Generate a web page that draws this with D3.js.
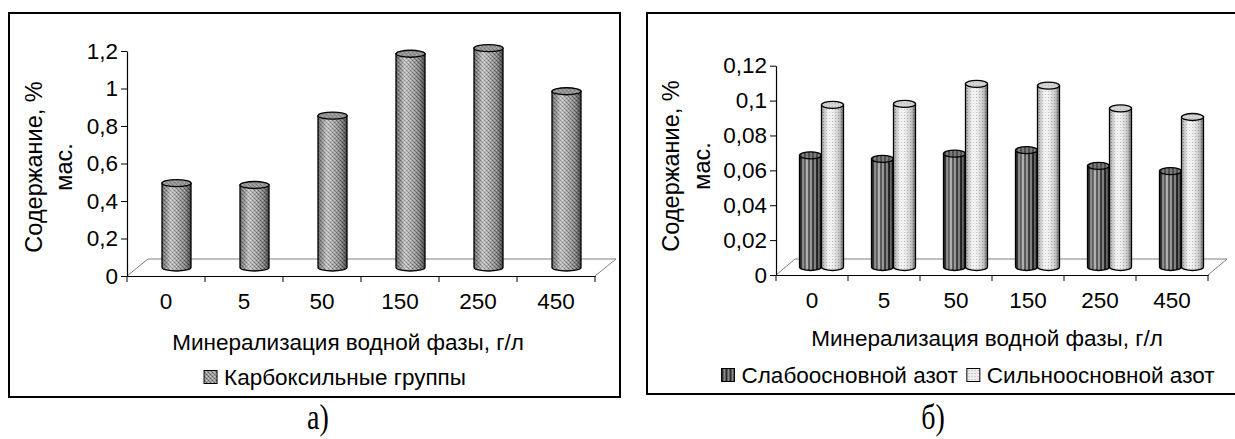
<!DOCTYPE html>
<html><head><meta charset="utf-8">
<script src="https://cdn.jsdelivr.net/npm/d3@7"></script>
<style>
html,body{margin:0;padding:0;background:#fff;}
svg text{font-family:"Liberation Sans",Arial,sans-serif;fill:#000;}
</style></head>
<body>
<svg id="c" width="1235" height="439"></svg>
<script>
// ---- data ----
const categories = ["0", "5", "50", "150", "250", "450"];
const carboxyl = [0.45, 0.44, 0.81, 1.14, 1.17, 0.94];
const weakN = [0.064, 0.062, 0.065, 0.067, 0.058, 0.055];
const strongN = [0.093, 0.0935, 0.105, 0.104, 0.091, 0.086];
const ticksA = [0, 0.2, 0.4, 0.6, 0.8, 1.0, 1.2];
const ticksB = [0, 0.02, 0.04, 0.06, 0.08, 0.10, 0.12];
const yTitle = ["Содержание, %", "мас."];
const xTitle = "Минерализация водной фазы, г/л";
const legendA = ["Карбоксильные группы"];
const legendB = ["Слабоосновной азот", "Сильноосновной азот"];
const captions = ["а)", "б)"];

const FS = 22.5;
const svg = d3.select("#c");
const defs = svg.append("defs");

function pat(id, w, h, bg, pts) {
  const p = defs.append("pattern").attr("id", id).attr("patternUnits", "userSpaceOnUse")
    .attr("width", w).attr("height", h);
  p.append("rect").attr("width", w).attr("height", h).attr("fill", bg);
  pts.forEach(q => p.append("rect").attr("x", q[0]).attr("y", q[1]).attr("width", q[2]).attr("height", q[3]).attr("fill", q[4]));
}
pat("pA", 4, 4, "#a0a0a0", [[0,0,1,1,"#5a5a5a"],[2,2,1,1,"#5a5a5a"],[2,0,1,1,"#cfcfcf"],[0,2,1,1,"#cfcfcf"],[1,1,1,1,"#7a7a7a"],[3,3,1,1,"#828282"]]);
pat("pD", 4, 4, "#8a8a8a", [[0,0,2,4,"#2a2a2a"]]);
pat("pL", 3, 3, "#eeeeee", [[1,1,1,1,"#b0b0b0"]]);

function grad(id, stops) {
  const g = defs.append("linearGradient").attr("id", id).attr("x1", "0").attr("x2", "1").attr("y1", "0").attr("y2", "0");
  stops.forEach(s => g.append("stop").attr("offset", s[0]).attr("stop-color", s[1]).attr("stop-opacity", s[2]));
}
grad("shade", [["0%","#000",0.3],["30%","#fff",0.35],["50%","#fff",0.15],["80%","#000",0.15],["100%","#000",0.55]]);

function cylinder(g, cx, rx, ry, yTop, yBot, fillId, topFill) {
  const body = `M${cx-rx},${yTop}L${cx-rx},${yBot}A${rx},${ry} 0 0 0 ${cx+rx},${yBot}L${cx+rx},${yTop}Z`;
  g.append("path").attr("d", body).attr("fill", `url(#${fillId})`);
  g.append("path").attr("d", body).attr("fill", "url(#shade)").attr("stroke", "#000").attr("stroke-width", 1.3);
  g.append("ellipse").attr("cx", cx).attr("cy", yTop).attr("rx", rx).attr("ry", ry).attr("fill", `url(#${fillId})`);
  g.append("ellipse").attr("cx", cx).attr("cy", yTop).attr("rx", rx).attr("ry", ry)
    .attr("fill", topFill).attr("fill-opacity", 0.55).attr("stroke", "#000").attr("stroke-width", 1.3);
}

const fmt = v => (v === 0 ? "0" : String(+v.toFixed(3))).replace(".", ",");

function chart(o) {
  const g = svg.append("g");
  g.append("rect").attr("x", o.frame[0]).attr("y", o.frame[1]).attr("width", o.frame[2]).attr("height", o.frame[3])
    .attr("fill", "none").attr("stroke", "#000").attr("stroke-width", 2);
  const x = d3.scaleBand().domain(categories).range(o.xr).paddingInner(0).paddingOuter(0);
  const y = d3.scaleLinear().domain([0, o.ymax]).range(o.yr);
  const y0 = y(0), dx = o.dx, dy = o.dy;
  const x0 = o.xr[0], x1 = o.xr[1];
  g.append("path").attr("d", `M${x0},${y0}L${x0+dx},${y0+dy}L${x1+dx},${y0+dy}L${x1},${y0}`)
    .attr("fill", "none").attr("stroke", "#808080").attr("stroke-width", 1);
  const ya = g.append("g").attr("transform", `translate(${x0},0)`)
    .call(d3.axisLeft(y).tickValues(o.ticks).tickFormat(fmt).tickSize(6).tickPadding(3).tickSizeOuter(0));
  ya.select(".domain").attr("stroke", "#000").attr("stroke-width", 1.2);
  ya.selectAll(".tick line").attr("stroke", "#000");
  ya.selectAll(".tick text").attr("font-size", FS).attr("fill", "#000");
  const xa = g.append("g").attr("transform", `translate(0,${y0})`)
    .call(d3.axisBottom(x).tickSize(0).tickPadding(17).tickSizeOuter(0));
  xa.select(".domain").attr("stroke", "#000").attr("stroke-width", 1.2);
  xa.selectAll(".tick text").attr("font-size", FS).attr("fill", "#000");
  categories.forEach(c => {
    const bx = x(c) + x.bandwidth();
    g.append("line").attr("x1", bx).attr("x2", bx).attr("y1", y0).attr("y2", y0 + 6).attr("stroke", "#000");
  });
  g.append("line").attr("x1", x0).attr("x2", x0).attr("y1", y0).attr("y2", y0 + 6).attr("stroke", "#000");
  const bars = g.append("g");
  o.series.forEach((s, si) => {
    s.values.forEach((v, i) => {
      const c = categories[i];
      const groupW = o.barW * o.series.length;
      const left = x(c) + x.bandwidth() / 2 + dx / 2 - groupW / 2 + si * o.barW;
      cylinder(bars, left + o.barW / 2, o.barW / 2, o.ry, y(v) + dy / 2, y0 + dy / 2, s.pat, s.top);
    });
  });
  yTitle.forEach((t, i) => {
    g.append("text").attr("transform", `translate(${o.yt[i]},${o.ytY}) rotate(-90)`)
      .attr("text-anchor", "middle").attr("dominant-baseline", "central").attr("font-size", 23.5).text(t);
  });
  g.append("text").attr("x", o.xt[0]).attr("y", o.xt[1]).attr("text-anchor", "middle").attr("font-size", FS).text(xTitle);
  // legend, centred at o.legCx
  const lg = g.append("g");
  let cur = 0;
  const items = o.legend.map((t, i) => {
    const it = lg.append("g");
    it.append("rect").attr("x", cur).attr("y", o.legY - 14.5).attr("width", 13).attr("height", 13)
      .attr("fill", `url(#${o.series[i].pat})`).attr("stroke", "#000").attr("stroke-width", 1);
    const tx = it.append("text").attr("x", cur + 20).attr("y", o.legY).attr("font-size", FS).text(t);
    cur += 20 + tx.node().getComputedTextLength() + 9;
    return it;
  });
  const total = cur - 9;
  lg.attr("transform", `translate(${o.legCx - total / 2},0)`);
  g.append("text").attr("transform", `translate(${o.cap[0]},${o.cap[1]}) scale(1,1.25)`)
    .attr("text-anchor", "middle").attr("font-size", 28)
    .style("font-family", "Liberation Serif, Times New Roman, serif").text(o.capT);
}

chart({
  frame: [9, 13, 611, 384], xr: [127, 595], yr: [276, 51], ymax: 1.2, ticks: ticksA,
  dx: 21, dy: -17, barW: 29, ry: 3.5,
  series: [{values: carboxyl, pat: "pA", top: "#909090"}],
  yt: [34, 64], ytY: 167, xt: [348, 350],
  legY: 385, legCx: 335, legend: legendA,
  cap: [318, 429], capT: captions[0]
});
chart({
  frame: [647, 13, 600, 381], xr: [776, 1208], yr: [275, 65.7], ymax: 0.12, ticks: ticksB,
  dx: 19, dy: -16, barW: 22, ry: 3.5,
  series: [{values: weakN, pat: "pD", top: "#707070"}, {values: strongN, pat: "pL", top: "#c0c0c0"}],
  yt: [671, 702], ytY: 166, xt: [987, 346],
  legY: 383, legCx: 968, legend: legendB,
  cap: [933, 429], capT: captions[1]
});
</script>
</body></html>
